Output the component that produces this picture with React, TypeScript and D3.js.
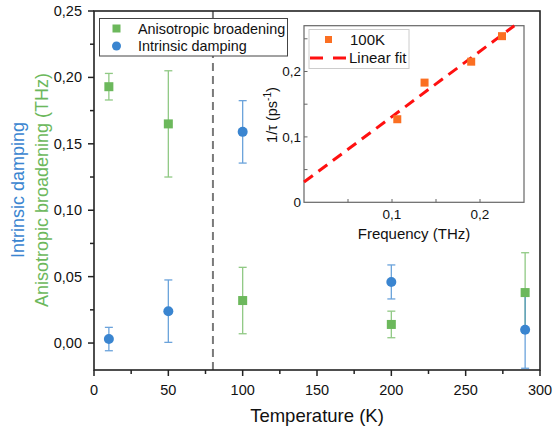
import React from "react";
import * as d3 from "d3";

// Main data
const temperatures = [10, 50, 100, 200, 290];
const anisoValues = [0.193, 0.165, 0.032, 0.014, 0.038];
const anisoErrors = [0.01, 0.04, 0.025, 0.01, 0.03];
const dampValues = [0.003, 0.024, 0.159, 0.046, 0.01];
const dampErrors = [0.0088, 0.0235, 0.0235, 0.0128, 0.029];
const xTicks = [0, 50, 100, 150, 200, 250, 300];
const yTicks = [0, 0.05, 0.1, 0.15, 0.2, 0.25];
const dashedT = 80;

// Inset data
const insetFreq = [0.106, 0.137, 0.19, 0.225];
const insetRate = [0.127, 0.183, 0.215, 0.254];
const fitIntercept = 0.031;
const fitSlope = 1.0;
const insetXTicks = [0.1, 0.2];
const insetYTicks = [0, 0.1, 0.2];

const GREEN = "#6cb85c";
const BLUE = "#3a85d0";
const ORANGE = "#fb6f22";
const FONT = "'Liberation Sans', Arial, sans-serif";
const fmt = (v: number, d: number) => v.toFixed(d).replace(".", ",");

export default function App() {
  const W = 553, H = 428;
  const x = d3.scaleLinear().domain([0, 300]).range([94, 540]);
  const y = d3.scaleLinear().domain([-0.0203, 0.25]).range([370, 11]);

  const ix = d3.scaleLinear().domain([0, 0.25]).range([304, 524]);
  const iy = d3.scaleLinear().domain([0, 0.27]).range([202.3, 25.7]);

  const minorX = d3.range(25, 300, 50);
  const minorY = d3.range(0.025, 0.25, 0.05);

  const errBar = (cx: number, v: number, e: number, color: string, key: string) => (
    <g key={key} stroke={color} strokeWidth={1.3} opacity={0.75}>
      <line x1={cx} x2={cx} y1={y(v - e)} y2={y(v + e)} />
      <line x1={cx - 4} x2={cx + 4} y1={y(v - e)} y2={y(v - e)} />
      <line x1={cx - 4} x2={cx + 4} y1={y(v + e)} y2={y(v + e)} />
    </g>
  );

  const fitLine = d3.line<number>().x((f) => ix(f)).y((f) => iy(fitIntercept + fitSlope * f));
  const fitEnd = (0.27 - fitIntercept) / fitSlope;

  return (
    <svg width={W} height={H} style={{ position: "absolute", left: 0, top: 0 }} fontFamily={FONT}>
      <rect width={W} height={H} fill="white" />
      {/* dashed vertical line */}
      <line x1={x(dashedT)} x2={x(dashedT)} y1={11} y2={370} stroke="#7a7a7a" strokeWidth={2} strokeDasharray="8,5" />

      {/* error bars */}
      {temperatures.map((t, i) => errBar(x(t), anisoValues[i], anisoErrors[i], GREEN, "ga" + i))}
      {temperatures.map((t, i) => errBar(x(t), dampValues[i], dampErrors[i], BLUE, "gb" + i))}
      {/* markers */}
      {temperatures.map((t, i) => (
        <rect key={"sa" + i} x={x(t) - 4.5} y={y(anisoValues[i]) - 4.5} width={9} height={9} fill={GREEN} />
      ))}
      {temperatures.map((t, i) => (
        <circle key={"cb" + i} cx={x(t)} cy={y(dampValues[i])} r={5} fill={BLUE} />
      ))}

      {/* frame */}
      <rect x={94} y={11} width={446} height={359} fill="none" stroke="#222" strokeWidth={1.6} />
      {/* x ticks */}
      {xTicks.map((t) => (
        <g key={"xt" + t}>
          <line x1={x(t)} x2={x(t)} y1={370} y2={376} stroke="#222" strokeWidth={1.5} />
          <text x={x(t)} y={395} fontSize={14.5} textAnchor="middle" fill="#111">{t}</text>
        </g>
      ))}
      {minorX.map((t) => (
        <line key={"xm" + t} x1={x(t)} x2={x(t)} y1={370} y2={374} stroke="#222" strokeWidth={1.5} />
      ))}
      {yTicks.map((t) => (
        <g key={"yt" + t}>
          <line x1={88} x2={94} y1={y(t)} y2={y(t)} stroke="#222" strokeWidth={1.5} />
          <text x={82} y={y(t) + 5} fontSize={14.5} textAnchor="end" fill="#111">{fmt(t, 2)}</text>
        </g>
      ))}
      {minorY.map((t) => (
        <line key={"ym" + t} x1={90} x2={94} y1={y(t)} y2={y(t)} stroke="#222" strokeWidth={1.5} />
      ))}

      {/* axis titles */}
      <text x={317} y={422} fontSize={18.5} textAnchor="middle" fill="#111">Temperature (K)</text>
      <text transform="translate(24,190) rotate(-90)" fontSize={18} textAnchor="middle" fill={BLUE}>Intrinsic damping</text>
      <text transform="translate(48,190) rotate(-90)" fontSize={18} textAnchor="middle" fill={GREEN}>Anisotropic broadening (THz)</text>

      {/* legend */}
      <rect x={99.5} y={18.5} width={188} height={37.5} fill="white" stroke="#444" strokeWidth={1} />
      <rect x={112.5} y={24.5} width={8} height={8} fill={GREEN} />
      <text x={138} y={34} fontSize={14.4} fill="#111">Anisotropic broadening</text>
      <circle cx={116.5} cy={46} r={4.5} fill={BLUE} />
      <text x={138} y={51} fontSize={14.4} fill="#111">Intrinsic damping</text>

      {/* inset */}
      <rect x={304} y={25.7} width={220} height={176.6} fill="white" stroke="#666" strokeWidth={1.2} />
      {d3.range(0.05, 0.25, 0.05).map((t) => (
        <line key={"ixt" + t} x1={ix(t)} x2={ix(t)} y1={202.3} y2={199} stroke="#666" strokeWidth={1} />
      ))}
      {insetXTicks.map((t) => (
        <text key={"ixl" + t} x={ix(t)} y={219} fontSize={13.5} textAnchor="middle" fill="#111">{fmt(t, 1)}</text>
      ))}
      {d3.range(0.05, 0.27, 0.05).map((t) => (
        <line key={"iyt" + t} x1={304} x2={307.5} y1={iy(t)} y2={iy(t)} stroke="#666" strokeWidth={1} />
      ))}
      {insetYTicks.map((t) => (
        <text key={"iyl" + t} x={301} y={iy(t) + 5} fontSize={13.5} textAnchor="end" fill="#111">{t === 0 ? "0" : fmt(t, 1)}</text>
      ))}
      <text x={414} y={239} fontSize={15} textAnchor="middle" fill="#111">Frequency (THz)</text>
      <text transform="translate(277,115) rotate(-90)" fontSize={14.5} textAnchor="middle" fill="#111">
        1/τ (ps<tspan dy={-6} fontSize={10}>-1</tspan><tspan dy={6}>)</tspan>
      </text>
      <path d={fitLine([0, fitEnd]) || ""} fill="none" stroke="#ff1010" strokeWidth={3} strokeDasharray="11,7" />
      {insetFreq.map((f, i) => (
        <rect key={"io" + i} x={ix(f) - 4} y={iy(insetRate[i]) - 4} width={8} height={8} fill={ORANGE} />
      ))}
      {/* inset legend */}
      <rect x={309} y={29.5} width={100} height={39} fill="white" stroke="#ccc" strokeWidth={1} />
      <rect x={325} y={36} width={7} height={7} fill={ORANGE} />
      <text x={350} y={45} fontSize={15} fill="#111">100K</text>
      <line x1={310} x2={347} y1={58} y2={58} stroke="#ff1010" strokeWidth={3} strokeDasharray="13,10" />
      <text x={349} y={63} fontSize={15} fill="#111">Linear fit</text>
    </svg>
  );
}
